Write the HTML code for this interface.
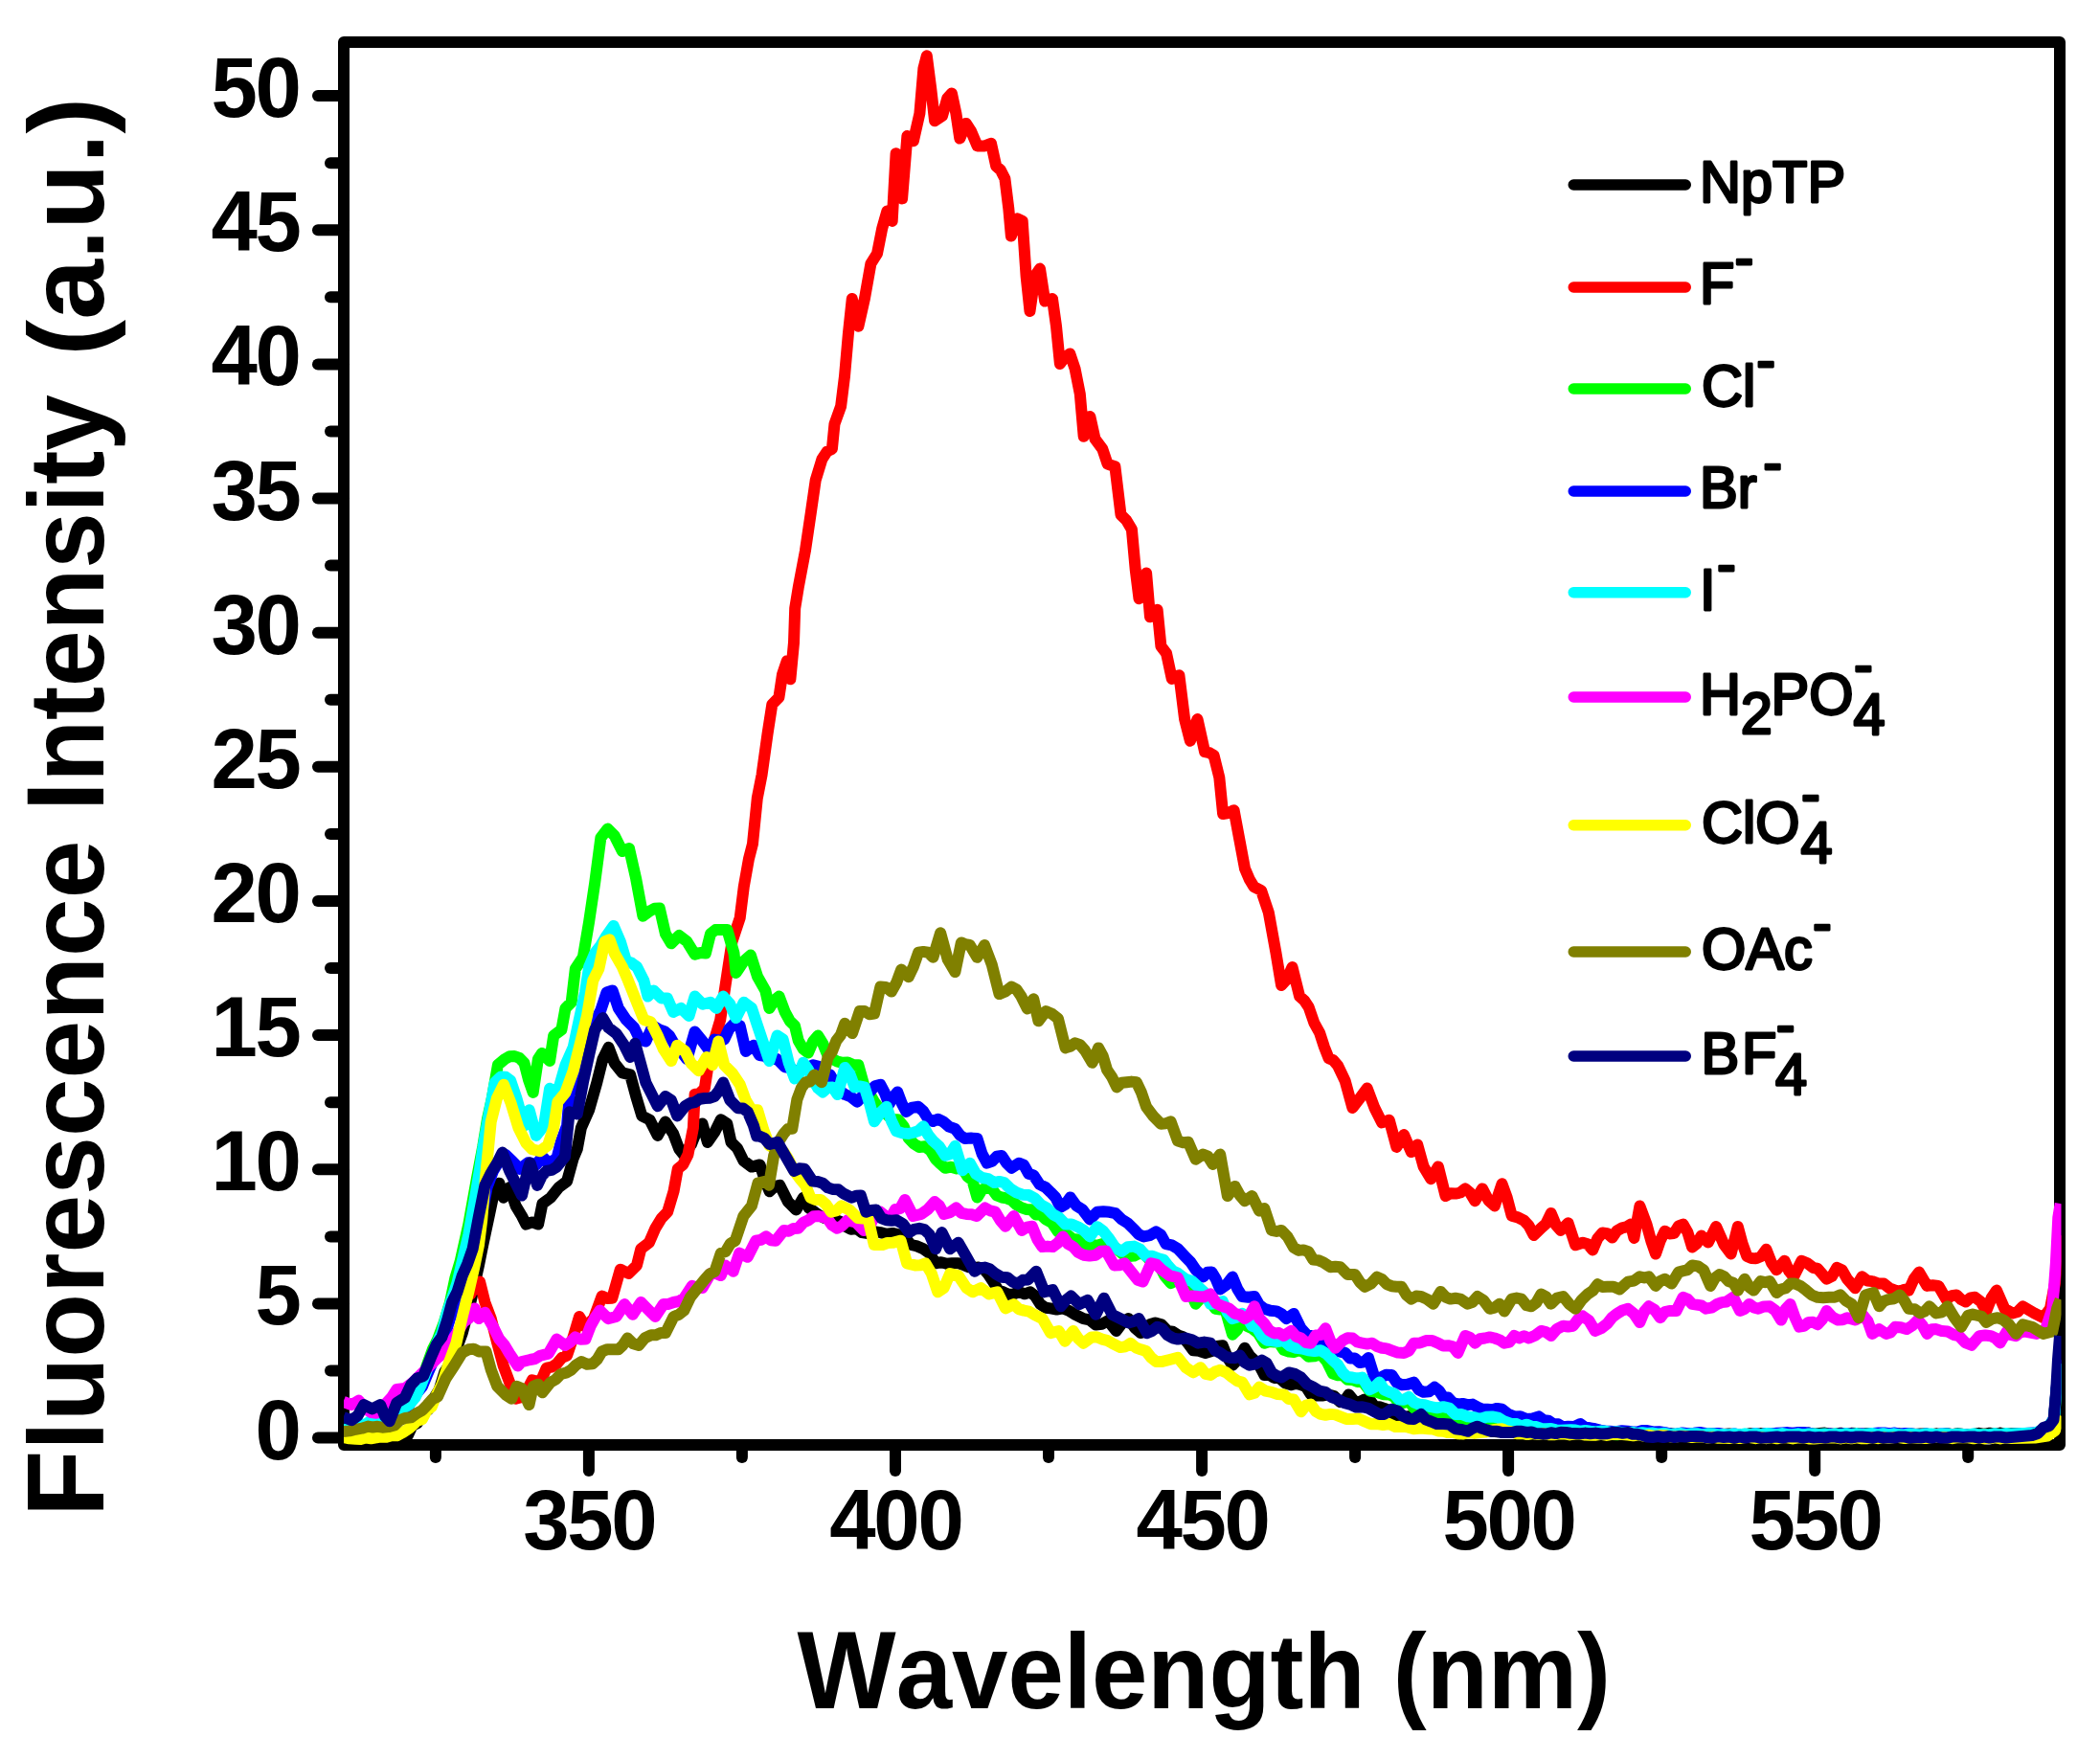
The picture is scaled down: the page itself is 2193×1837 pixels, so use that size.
<!DOCTYPE html>
<html lang="en"><head><meta charset="utf-8"><title>Fluorescence spectra of NpTP with anions</title>
<style>html,body{margin:0;padding:0;background:#fff}body{width:2193px;height:1837px;overflow:hidden}svg{display:block}text{font-family:"Liberation Sans",sans-serif;fill:#000}.b{font-weight:bold}.tk{font-weight:bold;font-size:89.5px;letter-spacing:-2.4px}.ti{font-weight:bold;font-size:110.5px}.lg{font-size:61px;stroke:#000;stroke-width:2.8px;stroke-linejoin:round}</style></head><body>
<svg width="2193" height="1837" viewBox="0 0 2193 1837">
<rect width="2193" height="1837" fill="#fff"/>
<defs><clipPath id="cp"><rect x="359" y="42" width="1793.5" height="1467.5"/></clipPath></defs>
<g stroke="#000" stroke-width="12" stroke-linecap="round" fill="none">
<line x1="332" y1="1501.6" x2="359" y2="1501.6"/>
<line x1="345" y1="1431.5" x2="359" y2="1431.5"/>
<line x1="332" y1="1361.4" x2="359" y2="1361.4"/>
<line x1="345" y1="1291.4" x2="359" y2="1291.4"/>
<line x1="332" y1="1221.3" x2="359" y2="1221.3"/>
<line x1="345" y1="1151.2" x2="359" y2="1151.2"/>
<line x1="332" y1="1081.1" x2="359" y2="1081.1"/>
<line x1="345" y1="1011.1" x2="359" y2="1011.1"/>
<line x1="332" y1="941.0" x2="359" y2="941.0"/>
<line x1="345" y1="870.9" x2="359" y2="870.9"/>
<line x1="332" y1="800.8" x2="359" y2="800.8"/>
<line x1="345" y1="730.8" x2="359" y2="730.8"/>
<line x1="332" y1="660.7" x2="359" y2="660.7"/>
<line x1="345" y1="590.6" x2="359" y2="590.6"/>
<line x1="332" y1="520.5" x2="359" y2="520.5"/>
<line x1="345" y1="450.5" x2="359" y2="450.5"/>
<line x1="332" y1="380.4" x2="359" y2="380.4"/>
<line x1="345" y1="310.3" x2="359" y2="310.3"/>
<line x1="332" y1="240.2" x2="359" y2="240.2"/>
<line x1="345" y1="170.2" x2="359" y2="170.2"/>
<line x1="332" y1="100.1" x2="359" y2="100.1"/>
<line x1="614.9" y1="1509" x2="614.9" y2="1536"/>
<line x1="935.0" y1="1509" x2="935.0" y2="1536"/>
<line x1="1255.1" y1="1509" x2="1255.1" y2="1536"/>
<line x1="1575.1" y1="1509" x2="1575.1" y2="1536"/>
<line x1="1895.2" y1="1509" x2="1895.2" y2="1536"/>
<line x1="454.9" y1="1509" x2="454.9" y2="1522"/>
<line x1="774.9" y1="1509" x2="774.9" y2="1522"/>
<line x1="1095.0" y1="1509" x2="1095.0" y2="1522"/>
<line x1="1415.1" y1="1509" x2="1415.1" y2="1522"/>
<line x1="1735.2" y1="1509" x2="1735.2" y2="1522"/>
<line x1="2055.2" y1="1509" x2="2055.2" y2="1522"/>
</g>
<rect x="359" y="44" width="1792" height="1465" fill="none" stroke="#000" stroke-width="12" stroke-linejoin="round"/>
<g clip-path="url(#cp)" fill="none" stroke-width="12" stroke-linejoin="round" stroke-linecap="butt">
<path d="M358.6 1501.4 L364.3 1502.3 L370.0 1502.6 L375.7 1502.0 L381.4 1502.3 L387.1 1503.7 L392.9 1503.5 L398.4 1502.6 L404.0 1503.2 L409.6 1501.8 L415.1 1502.3 L420.7 1501.4 L425.7 1499.4 L430.7 1488.7 L435.7 1486.4 L441.4 1475.3 L447.1 1472.4 L452.8 1460.7 L458.6 1451.4 L464.3 1432.9 L470.0 1424.3 L476.4 1409.7 L482.8 1392.1 L491.4 1360.0 L500.0 1321.4 L504.3 1300.0 L510.7 1270.0 L516.1 1244.3 L521.4 1235.7 L525.7 1250.7 L532.1 1240.0 L538.6 1259.3 L545.0 1270.0 L549.3 1278.6 L555.7 1276.4 L562.1 1278.6 L566.4 1257.1 L575.0 1250.7 L583.6 1240.0 L592.1 1233.6 L598.6 1210.0 L602.8 1200.0 L606.9 1177.7 L615.1 1159.3 L623.3 1130.6 L629.4 1106.1 L635.5 1093.8 L641.7 1110.2 L649.9 1120.4 L658.1 1122.4 L664.2 1145.0 L670.3 1165.4 L678.5 1169.5 L686.7 1185.9 L694.9 1171.6 L703.1 1183.8 L709.2 1200.0 L714.0 1206.0 L722.0 1195.0 L728.0 1180.0 L733.5 1173.6 L738.9 1192.9 L746.4 1182.1 L752.8 1169.3 L759.3 1173.6 L763.5 1192.9 L770.0 1199.3 L776.4 1212.1 L785.0 1218.6 L793.5 1216.4 L798.6 1231.7 L803.6 1244.3 L808.9 1239.2 L814.3 1237.9 L822.9 1255.0 L831.4 1263.6 L838.9 1250.7 L844.8 1261.6 L850.7 1265.7 L855.7 1269.4 L860.7 1271.8 L865.7 1272.1 L871.4 1273.6 L877.1 1275.7 L882.8 1280.7 L888.6 1283.8 L894.3 1283.0 L900.0 1287.1 L906.4 1288.2 L912.8 1286.2 L919.3 1287.1 L925.7 1288.7 L932.1 1287.9 L938.6 1289.3 L945.0 1292.4 L951.4 1300.0 L957.8 1301.4 L964.3 1304.3 L970.7 1308.8 L977.1 1319.3 L982.8 1318.2 L988.6 1319.8 L994.3 1319.3 L1000.7 1319.2 L1007.1 1321.4 L1012.1 1323.4 L1017.1 1324.0 L1022.1 1323.6 L1027.1 1325.2 L1032.1 1330.9 L1037.1 1338.6 L1042.5 1347.3 L1047.8 1349.3 L1053.2 1351.9 L1058.6 1351.4 L1064.3 1349.2 L1070.0 1351.3 L1075.7 1349.3 L1081.0 1353.5 L1086.4 1362.1 L1091.8 1365.7 L1097.1 1366.4 L1103.5 1367.6 L1110.0 1366.4 L1116.4 1368.8 L1122.8 1372.8 L1131.4 1377.1 L1137.8 1378.3 L1144.3 1383.6 L1150.7 1382.8 L1157.1 1379.3 L1165.7 1390.0 L1172.1 1381.4 L1178.5 1377.1 L1185.0 1386.6 L1191.4 1392.1 L1196.4 1386.5 L1201.4 1383.0 L1206.4 1381.4 L1212.8 1383.3 L1219.3 1390.0 L1224.6 1390.6 L1230.0 1394.3 L1235.3 1396.2 L1240.7 1403.1 L1246.1 1410.3 L1252.5 1410.9 L1258.9 1412.9 L1264.8 1411.3 L1270.8 1406.0 L1276.8 1405.2 L1281.9 1417.7 L1287.0 1425.7 L1293.4 1419.1 L1299.8 1407.8 L1304.9 1415.8 L1310.0 1420.6 L1315.1 1425.9 L1320.3 1435.9 L1325.4 1435.9 L1330.5 1438.9 L1335.6 1438.5 L1342.0 1444.4 L1348.4 1446.2 L1353.5 1444.9 L1358.6 1446.2 L1363.8 1448.3 L1368.9 1456.4 L1374.9 1457.5 L1380.8 1457.5 L1386.8 1456.4 L1393.2 1458.0 L1399.6 1464.1 L1404.1 1462.8 L1408.5 1456.4 L1414.9 1464.1 L1420.1 1464.0 L1425.2 1461.5 L1430.3 1461.8 L1435.4 1469.0 L1440.5 1469.2 L1445.6 1470.9 L1450.8 1473.0 L1455.9 1476.9 L1462.3 1479.7 L1468.7 1479.4 L1475.1 1478.7 L1481.5 1479.4 L1486.6 1479.3 L1491.7 1483.4 L1496.8 1482.9 L1501.9 1486.8 L1507.1 1487.1 L1512.8 1489.2 L1518.6 1489.0 L1524.3 1488.1 L1530.1 1489.7 L1535.7 1491.2 L1541.4 1491.2 L1547.0 1492.2 L1552.6 1494.2 L1558.2 1494.8 L1563.9 1495.4 L1569.6 1494.5 L1575.3 1495.6 L1580.9 1495.7 L1586.6 1495.8 L1592.3 1495.9 L1597.9 1495.0 L1603.6 1496.1 L1609.3 1495.2 L1614.9 1496.3 L1620.6 1496.4 L1626.3 1495.5 L1632.0 1496.6 L1637.6 1496.7 L1643.3 1496.8 L1649.0 1496.9 L1654.6 1496.0 L1660.3 1497.1 L1666.0 1496.2 L1671.6 1497.3 L1677.3 1496.4 L1683.0 1497.5 L1688.7 1496.6 L1694.3 1497.7 L1700.0 1497.3 L1705.6 1496.9 L1711.1 1497.9 L1716.7 1496.9 L1722.2 1498.0 L1727.8 1498.0 L1733.3 1497.1 L1738.9 1498.1 L1744.4 1497.1 L1750.0 1498.2 L1755.6 1497.2 L1761.1 1498.2 L1766.7 1497.3 L1772.2 1498.3 L1777.8 1497.4 L1783.3 1497.4 L1788.9 1497.4 L1794.4 1497.5 L1800.0 1498.0 L1805.6 1497.4 L1811.1 1498.4 L1816.7 1498.3 L1822.2 1498.3 L1827.8 1497.2 L1833.3 1498.2 L1838.9 1497.1 L1844.4 1498.1 L1850.0 1498.0 L1855.6 1496.9 L1861.1 1497.9 L1866.7 1496.8 L1872.2 1497.8 L1877.8 1496.7 L1883.3 1497.7 L1888.9 1496.6 L1894.4 1497.6 L1900.0 1497.0 L1905.6 1496.6 L1911.1 1497.6 L1916.7 1497.7 L1922.2 1496.7 L1927.8 1497.8 L1933.3 1496.8 L1938.9 1496.9 L1944.4 1497.9 L1950.0 1497.0 L1955.6 1498.1 L1961.1 1498.1 L1966.7 1498.2 L1972.2 1497.2 L1977.8 1498.3 L1983.3 1497.3 L1988.9 1498.4 L1994.4 1497.4 L2000.0 1498.0 L2005.6 1497.4 L2011.1 1497.4 L2016.7 1498.3 L2022.2 1497.3 L2027.8 1498.2 L2033.3 1497.2 L2038.9 1498.1 L2044.4 1497.1 L2050.0 1498.0 L2055.6 1497.9 L2061.1 1497.9 L2066.7 1496.8 L2072.2 1497.8 L2077.8 1496.7 L2083.3 1497.7 L2088.9 1496.6 L2094.4 1497.6 L2100.0 1497.0 L2130.0 1497.0 L2140.0 1491.0 L2145.0 1482.0 L2147.5 1452.0 L2151.0 1425.0" stroke="#000000"/>
<path d="M358.6 1499.3 L364.5 1499.2 L370.4 1497.7 L376.2 1498.2 L382.1 1497.1 L387.5 1495.5 L392.9 1495.5 L398.2 1493.4 L403.6 1492.8 L408.9 1485.8 L414.3 1484.3 L422.9 1465.0 L429.3 1458.2 L435.7 1445.7 L442.1 1439.3 L450.7 1420.0 L456.1 1405.8 L461.4 1398.6 L466.8 1372.8 L472.7 1369.0 L478.6 1362.1 L485.0 1355.3 L491.4 1351.4 L496.2 1343.1 L501.1 1338.6 L506.4 1360.0 L512.8 1377.1 L519.3 1402.8 L525.7 1426.4 L532.1 1443.6 L538.6 1460.7 L547.1 1458.5 L555.7 1441.4 L564.3 1443.6 L570.7 1428.6 L576.1 1427.7 L581.4 1424.3 L586.8 1417.8 L592.1 1415.7 L598.6 1396.4 L605.0 1375.0 L611.4 1385.7 L620.0 1377.1 L628.6 1353.6 L633.9 1355.9 L639.3 1355.7 L647.8 1325.7 L656.4 1330.0 L665.0 1321.4 L669.3 1304.3 L677.8 1297.8 L684.3 1282.8 L690.7 1272.4 L697.1 1265.7 L703.5 1244.3 L707.8 1220.7 L713.2 1216.3 L718.5 1205.7 L723.9 1177.9 L725.6 1142.9 L730.7 1141.8 L735.8 1136.8 L739.9 1110.2 L746.1 1085.6 L752.2 1065.1 L758.3 1024.2 L764.5 983.3 L772.7 958.7 L776.8 926.0 L781.9 897.3 L786.0 881.2 L790.8 833.5 L795.5 809.6 L801.5 766.6 L806.3 735.6 L813.4 728.4 L817.0 704.5 L821.8 690.2 L825.4 709.3 L829.0 671.1 L830.2 635.2 L833.7 613.7 L840.9 575.5 L846.9 534.9 L851.7 501.5 L858.5 479.3 L863.7 471.5 L868.9 468.9 L871.5 442.7 L878.1 424.4 L882.0 393.0 L885.9 348.6 L889.8 312.0 L896.4 340.7 L902.9 312.0 L909.4 275.4 L916.0 264.9 L921.2 238.7 L926.4 220.4 L931.7 230.9 L935.6 160.3 L942.1 207.4 L947.4 142.0 L953.9 147.2 L960.4 118.5 L964.4 71.4 L967.8 58.3 L972.2 92.3 L976.1 126.3 L984.0 121.1 L989.2 102.8 L993.9 97.5 L998.4 118.5 L1002.3 144.6 L1008.8 128.9 L1014.0 136.8 L1020.6 152.4 L1028.4 152.4 L1035.0 149.8 L1040.2 173.4 L1044.8 177.5 L1049.4 186.4 L1053.3 217.8 L1055.9 246.6 L1062.4 228.3 L1067.7 230.9 L1071.6 288.4 L1075.5 325.0 L1080.7 288.4 L1086.0 280.6 L1091.2 314.6 L1099.0 312.0 L1103.0 340.7 L1106.9 380.0 L1112.1 373.1 L1117.3 369.5 L1122.6 385.2 L1127.8 411.3 L1131.7 455.8 L1138.3 434.9 L1143.5 458.4 L1151.3 468.9 L1156.6 484.6 L1164.4 487.2 L1170.5 537.6 L1176.2 543.2 L1181.9 552.9 L1185.7 594.8 L1189.5 625.2 L1197.1 598.6 L1201.0 644.3 L1208.6 636.7 L1212.4 674.8 L1218.1 682.4 L1223.8 709.0 L1231.4 705.2 L1237.1 751.0 L1242.9 773.8 L1250.5 751.0 L1258.1 785.2 L1262.9 786.2 L1267.6 789.0 L1273.3 811.9 L1277.1 850.0 L1282.9 849.1 L1288.6 846.2 L1294.3 876.7 L1300.0 907.1 L1304.8 918.4 L1309.5 926.2 L1317.1 930.0 L1324.8 952.9 L1332.4 994.8 L1338.1 1029.0 L1343.8 1022.7 L1349.5 1010.0 L1357.1 1040.5 L1361.9 1044.7 L1366.7 1051.9 L1372.4 1068.4 L1378.1 1078.6 L1382.9 1093.4 L1387.6 1105.2 L1392.4 1107.3 L1397.1 1112.9 L1404.7 1128.9 L1412.4 1157.0 L1420.1 1146.8 L1427.7 1136.5 L1435.4 1157.0 L1443.1 1172.4 L1450.8 1169.8 L1458.4 1197.9 L1466.1 1185.1 L1473.8 1203.1 L1480.2 1195.4 L1486.6 1218.4 L1494.3 1231.2 L1501.9 1218.4 L1509.6 1249.1 L1514.7 1246.2 L1519.9 1246.6 L1525.0 1245.5 L1530.1 1241.4 L1535.2 1245.6 L1540.3 1254.2 L1548.0 1241.4 L1554.4 1253.5 L1560.8 1259.4 L1568.5 1236.3 L1573.6 1250.4 L1578.7 1269.6 L1585.1 1271.4 L1591.5 1274.7 L1596.6 1280.2 L1601.7 1290.1 L1609.4 1282.4 L1614.5 1277.9 L1619.7 1267.0 L1624.8 1279.2 L1629.9 1284.9 L1637.6 1277.3 L1645.2 1300.3 L1652.9 1297.7 L1658.0 1299.2 L1663.2 1305.4 L1668.3 1293.4 L1673.4 1287.5 L1678.5 1288.1 L1683.6 1292.6 L1688.7 1285.2 L1693.9 1282.4 L1698.4 1281.3 L1702.9 1278.6 L1706.4 1292.9 L1712.4 1259.5 L1719.5 1278.6 L1724.3 1296.0 L1729.0 1309.5 L1733.8 1295.6 L1738.6 1285.7 L1743.3 1288.4 L1748.1 1288.1 L1752.9 1280.3 L1757.6 1278.6 L1762.4 1286.9 L1767.1 1302.4 L1771.9 1298.7 L1776.7 1290.5 L1783.8 1297.6 L1792.1 1281.0 L1800.5 1300.0 L1807.6 1309.5 L1814.8 1281.0 L1819.5 1298.6 L1824.3 1311.9 L1829.0 1313.9 L1833.8 1314.3 L1839.2 1312.0 L1844.5 1304.8 L1849.9 1318.7 L1855.2 1326.2 L1863.6 1316.7 L1868.3 1327.5 L1873.1 1333.3 L1881.4 1316.7 L1887.4 1319.2 L1893.3 1323.8 L1898.1 1324.9 L1902.9 1330.4 L1907.6 1335.7 L1913.0 1333.0 L1918.3 1323.8 L1923.7 1326.4 L1929.0 1335.7 L1937.4 1345.2 L1944.5 1333.3 L1949.9 1337.5 L1955.2 1338.1 L1961.2 1340.4 L1967.1 1340.5 L1973.1 1345.2 L1979.0 1347.6 L1983.8 1348.7 L1988.6 1346.7 L1993.3 1347.6 L1998.7 1335.6 L2004.0 1328.6 L2012.4 1342.9 L2018.3 1342.3 L2024.3 1342.9 L2032.6 1357.1 L2038.0 1353.2 L2043.3 1352.4 L2048.1 1357.2 L2052.9 1359.5 L2057.6 1355.4 L2062.4 1354.8 L2068.3 1359.2 L2074.3 1369.0 L2079.6 1355.7 L2085.0 1347.6 L2093.3 1366.7 L2101.7 1371.4 L2107.0 1370.0 L2112.4 1364.3 L2124.3 1371.4 L2133.8 1376.2 L2141.0 1366.7 L2146.0 1340.0 L2151.0 1290.0" stroke="#ff0000"/>
<path d="M358.6 1497.1 L364.5 1495.0 L370.4 1494.4 L376.2 1491.8 L382.1 1490.7 L387.5 1489.7 L392.9 1490.1 L398.2 1488.6 L403.6 1488.5 L409.3 1480.8 L415.0 1474.1 L420.7 1471.4 L425.7 1465.5 L430.7 1453.8 L435.7 1450.0 L441.1 1439.4 L446.4 1424.3 L451.8 1409.2 L457.1 1398.6 L463.6 1381.5 L470.0 1360.0 L475.3 1335.0 L480.7 1317.1 L489.3 1278.6 L497.8 1231.4 L504.3 1197.1 L509.0 1168.6 L513.8 1147.0 L519.9 1112.2 L527.1 1106.1 L532.2 1103.2 L537.3 1103.0 L542.4 1104.9 L547.5 1110.2 L552.1 1127.9 L556.7 1140.9 L561.9 1106.1 L566.0 1099.9 L574.1 1108.1 L578.2 1081.5 L586.4 1075.4 L590.5 1052.9 L596.7 1046.7 L600.8 1011.9 L608.9 999.6 L615.1 962.8 L621.2 921.9 L627.4 874.8 L634.5 865.6 L641.7 872.7 L649.9 889.1 L657.0 886.0 L664.2 917.8 L671.4 956.7 L678.5 951.5 L683.6 948.8 L688.8 948.5 L694.9 975.1 L701.0 985.3 L709.2 977.1 L717.4 983.3 L725.6 996.6 L731.2 995.1 L736.9 995.5 L742.0 975.1 L747.1 971.1 L752.2 971.0 L759.4 971.0 L766.5 995.5 L768.6 1016.0 L776.8 1003.7 L783.9 997.6 L791.1 1020.1 L799.3 1034.4 L803.4 1052.9 L808.5 1044.9 L813.6 1040.6 L819.7 1056.9 L824.9 1066.4 L830.0 1071.3 L833.7 1086.7 L838.8 1095.5 L844.0 1099.5 L849.1 1087.6 L854.2 1081.6 L859.3 1089.9 L864.4 1102.1 L869.5 1105.9 L874.7 1108.7 L879.8 1109.8 L885.3 1109.6 L890.9 1112.0 L896.4 1112.3 L902.8 1135.4 L907.9 1141.6 L913.0 1150.7 L919.4 1158.9 L925.8 1163.5 L931.8 1169.1 L937.8 1169.2 L943.7 1176.3 L948.8 1188.7 L954.0 1194.2 L959.9 1198.0 L965.9 1197.2 L971.9 1201.9 L977.0 1210.4 L982.1 1215.5 L987.2 1219.8 L993.2 1218.7 L999.2 1220.4 L1005.1 1219.8 L1010.2 1228.5 L1015.4 1232.6 L1020.5 1250.5 L1025.6 1242.4 L1030.7 1240.2 L1035.8 1241.5 L1040.9 1248.5 L1046.1 1250.5 L1051.2 1251.4 L1056.3 1253.4 L1061.4 1258.1 L1066.5 1261.1 L1071.6 1262.9 L1076.8 1263.3 L1081.9 1268.4 L1087.0 1268.6 L1092.1 1273.5 L1098.5 1276.8 L1104.9 1286.3 L1110.0 1289.8 L1115.1 1289.8 L1120.2 1294.0 L1125.4 1294.4 L1130.5 1300.5 L1135.6 1301.6 L1140.7 1299.8 L1145.8 1300.8 L1150.9 1299.1 L1156.1 1302.7 L1161.2 1301.0 L1166.3 1304.2 L1172.7 1309.8 L1179.1 1311.9 L1184.2 1311.6 L1189.3 1309.0 L1194.4 1309.3 L1199.5 1314.6 L1204.7 1314.9 L1209.8 1319.5 L1216.2 1332.4 L1222.6 1340.0 L1230.7 1336.1 L1235.8 1337.7 L1240.9 1343.8 L1248.6 1361.7 L1253.7 1355.8 L1258.9 1354.0 L1264.0 1359.0 L1269.1 1366.8 L1274.2 1367.5 L1279.3 1366.8 L1287.0 1393.7 L1292.1 1388.7 L1297.2 1377.1 L1302.4 1385.1 L1307.5 1387.3 L1313.9 1392.3 L1320.3 1402.7 L1325.4 1401.0 L1330.5 1401.4 L1335.6 1402.1 L1340.7 1409.9 L1345.9 1411.6 L1351.0 1412.0 L1356.1 1410.3 L1361.2 1411.9 L1366.3 1416.7 L1372.7 1416.3 L1379.1 1414.2 L1385.5 1421.7 L1391.9 1434.6 L1397.0 1436.2 L1402.1 1435.9 L1407.3 1440.8 L1412.4 1441.0 L1417.5 1443.0 L1422.6 1442.3 L1430.3 1452.5 L1438.0 1453.8 L1444.4 1456.2 L1450.8 1456.4 L1455.9 1458.8 L1461.0 1465.3 L1466.1 1464.9 L1471.2 1462.8 L1476.4 1470.3 L1481.5 1472.3 L1487.9 1473.3 L1494.3 1471.7 L1500.7 1476.4 L1507.1 1477.4 L1513.5 1477.8 L1519.9 1479.4 L1526.3 1483.1 L1532.7 1485.0 L1539.0 1486.2 L1545.4 1485.8 L1551.8 1485.8 L1558.2 1489.7 L1564.6 1490.2 L1571.0 1489.7 L1577.4 1490.4 L1583.8 1492.2 L1588.9 1493.2 L1594.1 1493.7 L1599.2 1493.2 L1604.3 1494.8 L1609.4 1494.8 L1614.5 1494.5 L1619.7 1495.8 L1624.8 1495.0 L1629.9 1495.3 L1635.0 1496.0 L1640.1 1496.8 L1645.2 1496.1 L1650.4 1496.3 L1655.5 1497.6 L1660.6 1497.3 L1666.2 1497.9 L1671.9 1497.0 L1677.5 1498.0 L1683.1 1498.1 L1688.7 1498.2 L1694.4 1497.3 L1700.0 1497.8 L1705.6 1498.4 L1711.1 1497.5 L1716.7 1498.5 L1722.2 1497.6 L1727.8 1497.7 L1733.3 1498.7 L1738.9 1497.8 L1744.4 1498.9 L1750.0 1497.9 L1755.6 1499.0 L1761.1 1498.0 L1766.7 1499.1 L1772.2 1498.2 L1777.8 1499.2 L1783.3 1498.3 L1788.9 1499.4 L1794.4 1498.4 L1800.0 1499.0 L1805.6 1498.5 L1811.1 1498.4 L1816.7 1499.4 L1822.2 1498.4 L1827.8 1499.4 L1833.3 1498.3 L1838.9 1499.3 L1844.4 1498.3 L1850.0 1499.2 L1855.6 1498.2 L1861.1 1499.2 L1866.7 1498.2 L1872.2 1498.1 L1877.8 1498.1 L1883.3 1499.1 L1888.9 1498.1 L1894.4 1499.0 L1900.0 1498.5 L1905.6 1499.0 L1911.1 1498.1 L1916.7 1498.1 L1922.2 1498.1 L1927.8 1499.1 L1933.3 1498.2 L1938.9 1498.2 L1944.4 1499.2 L1950.0 1498.2 L1955.6 1499.3 L1961.1 1498.3 L1966.7 1498.3 L1972.2 1499.4 L1977.8 1498.4 L1983.3 1498.4 L1988.9 1499.4 L1994.4 1499.5 L2000.0 1499.0 L2005.6 1499.5 L2011.1 1498.4 L2016.7 1499.4 L2022.2 1498.4 L2027.8 1498.4 L2033.3 1499.3 L2038.9 1499.3 L2044.4 1499.3 L2050.0 1499.2 L2055.6 1498.2 L2061.1 1499.2 L2066.7 1499.2 L2072.2 1498.1 L2077.8 1499.1 L2083.3 1499.1 L2088.9 1499.1 L2094.4 1498.0 L2100.0 1498.5 L2130.0 1497.0 L2140.0 1491.0 L2145.0 1482.0 L2147.5 1452.0 L2151.0 1424.0" stroke="#00ff00"/>
<path d="M358.6 1499.3 L364.5 1498.2 L370.4 1495.5 L376.2 1493.9 L382.1 1492.8 L387.5 1491.8 L392.9 1492.3 L398.2 1490.7 L403.6 1490.7 L409.3 1487.4 L415.0 1482.7 L420.7 1475.7 L425.7 1471.2 L430.7 1459.4 L435.7 1454.3 L441.1 1447.8 L446.4 1435.0 L451.8 1422.6 L457.1 1413.6 L463.6 1396.8 L470.0 1377.1 L476.4 1363.0 L482.8 1342.8 L488.2 1326.3 L493.6 1312.8 L502.1 1274.3 L508.6 1240.0 L515.0 1222.9 L521.4 1212.1 L527.8 1205.7 L534.3 1212.1 L542.8 1220.7 L551.4 1214.3 L560.0 1216.4 L566.4 1207.9 L572.8 1214.3 L581.4 1210.0 L585.7 1192.9 L592.1 1175.7 L594.6 1142.9 L602.8 1122.4 L611.0 1095.8 L619.2 1071.3 L627.4 1054.9 L633.5 1036.5 L639.6 1034.4 L645.8 1052.9 L654.0 1065.1 L662.2 1073.3 L668.3 1085.6 L674.4 1087.6 L681.6 1071.3 L688.8 1075.4 L693.9 1077.1 L699.0 1081.5 L707.2 1095.8 L712.3 1099.3 L717.4 1106.1 L725.6 1077.4 L733.8 1087.6 L739.9 1095.8 L746.1 1085.6 L751.2 1086.7 L756.3 1085.6 L761.4 1074.5 L766.5 1069.2 L772.7 1071.3 L778.8 1097.9 L787.0 1091.7 L793.1 1102.0 L798.3 1102.7 L803.4 1106.1 L811.6 1106.1 L819.7 1114.3 L824.9 1115.2 L830.0 1118.3 L831.2 1120.0 L837.1 1116.1 L843.1 1115.8 L849.1 1112.3 L855.0 1113.9 L861.0 1120.2 L867.0 1122.6 L872.1 1131.6 L877.2 1139.4 L882.3 1143.0 L888.7 1145.5 L895.1 1150.7 L901.5 1143.8 L907.9 1140.5 L913.7 1134.4 L919.4 1132.8 L923.9 1141.4 L928.4 1153.3 L932.9 1145.6 L937.3 1140.5 L941.8 1152.5 L946.3 1160.9 L952.7 1156.6 L959.1 1155.8 L964.2 1160.5 L969.3 1168.6 L974.4 1171.0 L979.5 1168.8 L984.7 1171.2 L991.1 1176.6 L997.4 1178.8 L1002.6 1185.6 L1007.7 1189.1 L1014.1 1188.6 L1020.5 1189.1 L1025.6 1205.2 L1030.7 1214.7 L1035.8 1212.9 L1040.9 1207.8 L1046.1 1207.0 L1051.2 1214.8 L1056.3 1219.8 L1064.0 1214.7 L1069.1 1216.6 L1074.2 1225.7 L1079.3 1227.4 L1085.7 1237.0 L1092.1 1240.2 L1097.2 1245.2 L1102.3 1250.5 L1107.4 1260.7 L1112.6 1257.8 L1117.7 1250.5 L1124.1 1259.2 L1130.5 1263.3 L1138.1 1273.5 L1145.8 1265.8 L1152.2 1265.3 L1158.6 1265.8 L1165.0 1267.2 L1171.4 1273.5 L1177.8 1277.5 L1184.2 1283.7 L1189.3 1289.3 L1194.4 1291.4 L1200.8 1290.1 L1207.2 1286.3 L1212.3 1289.5 L1217.5 1299.1 L1223.7 1300.4 L1230.0 1304.2 L1238.4 1313.1 L1243.5 1318.3 L1248.6 1325.9 L1256.3 1333.6 L1260.8 1328.7 L1265.3 1328.4 L1269.7 1335.7 L1274.2 1346.4 L1280.6 1341.9 L1287.0 1333.6 L1292.1 1345.8 L1297.2 1354.0 L1303.6 1354.8 L1310.0 1354.0 L1315.1 1362.9 L1320.3 1366.8 L1326.7 1368.7 L1333.1 1369.4 L1338.2 1372.0 L1343.3 1377.1 L1351.0 1371.9 L1358.6 1387.3 L1363.8 1393.0 L1368.9 1395.0 L1374.9 1400.4 L1380.8 1404.1 L1386.8 1405.2 L1392.8 1405.9 L1398.7 1411.4 L1404.7 1412.9 L1409.8 1418.5 L1414.9 1418.6 L1420.1 1423.1 L1424.5 1422.4 L1429.0 1418.0 L1435.4 1438.5 L1441.4 1438.9 L1447.4 1435.7 L1453.3 1435.9 L1458.4 1443.6 L1463.6 1446.2 L1470.0 1445.7 L1476.4 1443.6 L1481.5 1451.3 L1486.6 1453.8 L1492.3 1453.3 L1498.1 1448.7 L1502.6 1452.2 L1507.1 1458.9 L1512.2 1459.5 L1517.3 1465.1 L1522.4 1466.6 L1527.5 1465.9 L1532.7 1467.1 L1537.8 1466.6 L1542.9 1469.5 L1548.0 1471.7 L1553.1 1471.7 L1558.2 1472.3 L1563.4 1470.9 L1568.5 1471.7 L1574.9 1476.7 L1581.3 1479.4 L1587.7 1479.3 L1594.1 1482.0 L1600.5 1481.5 L1606.9 1479.4 L1612.0 1483.1 L1617.1 1483.6 L1622.2 1487.1 L1627.3 1487.3 L1632.4 1490.3 L1637.6 1489.7 L1644.0 1489.9 L1650.4 1487.1 L1655.5 1490.8 L1660.6 1491.3 L1665.7 1492.2 L1670.8 1493.6 L1675.9 1494.4 L1681.1 1494.8 L1687.4 1495.3 L1693.7 1494.3 L1700.0 1494.8 L1705.0 1495.5 L1710.0 1495.5 L1715.0 1494.0 L1720.0 1494.0 L1726.2 1495.4 L1732.5 1495.2 L1738.8 1496.1 L1745.0 1497.5 L1751.0 1497.7 L1757.0 1496.4 L1763.0 1497.1 L1769.0 1496.8 L1775.0 1496.0 L1781.2 1497.0 L1787.5 1497.5 L1793.8 1497.0 L1800.0 1498.0 L1805.6 1498.4 L1811.1 1497.4 L1816.7 1498.3 L1822.2 1498.3 L1827.8 1498.2 L1833.3 1497.2 L1838.9 1498.1 L1844.4 1497.1 L1850.0 1497.5 L1855.6 1496.7 L1861.2 1496.4 L1866.8 1496.1 L1872.4 1496.8 L1878.0 1496.0 L1883.5 1496.0 L1889.0 1496.5 L1894.5 1498.0 L1900.0 1498.0 L1905.6 1498.5 L1911.1 1497.5 L1916.7 1498.5 L1922.2 1497.5 L1927.8 1497.5 L1933.3 1497.5 L1938.9 1498.5 L1944.4 1497.5 L1950.0 1498.0 L1956.0 1497.0 L1962.0 1496.5 L1968.0 1496.5 L1973.3 1497.2 L1978.7 1496.5 L1984.0 1497.8 L1989.3 1497.0 L1994.7 1497.2 L2000.0 1498.0 L2005.6 1498.5 L2011.1 1497.5 L2016.7 1498.5 L2022.2 1498.5 L2027.8 1497.5 L2033.3 1497.5 L2038.9 1498.5 L2044.4 1498.5 L2050.0 1498.0 L2055.2 1498.5 L2060.4 1499.5 L2065.6 1500.5 L2070.8 1501.5 L2076.0 1503.0 L2082.0 1501.2 L2088.0 1501.0 L2094.0 1498.8 L2100.0 1498.0 L2130.0 1496.0 L2140.0 1490.0 L2145.0 1481.0 L2147.5 1450.0 L2151.0 1420.0" stroke="#0000ff"/>
<path d="M358.6 1492.8 L365.0 1492.3 L371.4 1490.7 L376.4 1487.1 L381.4 1488.3 L386.4 1484.3 L392.9 1484.9 L399.3 1484.3 L404.3 1484.6 L409.3 1480.6 L414.3 1480.0 L420.7 1470.8 L427.1 1467.1 L433.6 1459.4 L440.0 1445.7 L445.4 1431.6 L450.7 1420.0 L456.1 1403.2 L461.4 1392.1 L466.8 1370.9 L472.1 1355.7 L477.5 1339.8 L482.8 1317.1 L489.3 1289.3 L495.7 1252.8 L501.1 1220.7 L504.3 1199.3 L510.7 1163.4 L516.8 1130.6 L523.0 1124.5 L528.1 1124.8 L533.2 1128.6 L539.4 1147.0 L547.5 1175.7 L552.7 1159.3 L559.8 1185.9 L568.0 1175.7 L574.1 1136.8 L582.3 1140.9 L590.5 1112.2 L598.7 1093.8 L604.8 1065.1 L611.0 1036.5 L615.1 1009.9 L621.2 995.5 L627.4 987.4 L633.5 977.1 L640.7 966.9 L647.8 983.3 L654.0 1003.7 L659.6 1005.7 L665.2 1009.9 L672.4 1024.2 L676.5 1040.6 L682.6 1034.4 L690.8 1042.6 L696.9 1042.6 L703.1 1056.9 L711.3 1052.9 L719.5 1061.0 L725.6 1040.6 L733.8 1048.8 L742.0 1046.7 L748.1 1052.9 L755.3 1040.6 L762.4 1048.8 L768.6 1063.1 L776.8 1046.7 L785.0 1052.9 L791.1 1071.3 L797.2 1089.7 L803.4 1108.1 L811.6 1081.5 L817.7 1085.6 L823.8 1110.2 L830.0 1126.5 L834.4 1121.3 L838.8 1109.8 L844.0 1117.0 L849.1 1127.7 L854.2 1136.4 L859.3 1140.5 L864.4 1135.7 L869.5 1135.4 L874.7 1143.0 L882.3 1114.9 L887.4 1121.6 L892.6 1135.4 L897.7 1134.5 L902.8 1135.4 L907.9 1151.8 L913.0 1171.2 L919.4 1162.1 L925.8 1155.8 L930.9 1170.6 L936.1 1181.4 L942.4 1183.4 L948.8 1184.0 L954.0 1182.7 L959.1 1181.1 L964.2 1176.3 L969.3 1185.3 L974.4 1191.6 L980.8 1197.2 L987.2 1207.0 L992.3 1205.1 L997.4 1196.8 L1005.1 1222.3 L1012.8 1214.7 L1019.2 1225.9 L1025.6 1230.0 L1032.0 1231.2 L1038.4 1235.1 L1043.5 1233.9 L1048.6 1235.1 L1055.0 1241.4 L1061.4 1245.4 L1067.8 1247.7 L1074.2 1247.9 L1080.6 1251.5 L1087.0 1258.1 L1093.4 1261.8 L1099.8 1268.4 L1106.2 1271.8 L1112.6 1278.6 L1119.0 1278.5 L1125.4 1281.2 L1131.8 1285.0 L1138.1 1291.4 L1145.8 1281.2 L1152.2 1285.9 L1158.6 1294.0 L1165.0 1303.5 L1171.4 1306.8 L1177.8 1302.2 L1184.2 1301.6 L1190.6 1304.7 L1197.0 1311.9 L1203.4 1311.8 L1209.8 1314.4 L1214.9 1315.5 L1220.0 1322.1 L1225.0 1327.5 L1230.0 1329.8 L1238.4 1336.1 L1244.8 1338.1 L1251.2 1343.8 L1257.6 1349.7 L1264.0 1361.7 L1270.4 1361.1 L1276.8 1359.2 L1281.9 1370.8 L1287.0 1377.1 L1292.1 1375.5 L1297.2 1371.9 L1302.4 1375.8 L1307.5 1384.7 L1312.6 1386.7 L1317.7 1395.0 L1322.8 1399.7 L1327.9 1400.1 L1334.3 1401.0 L1340.7 1400.1 L1347.1 1405.6 L1353.5 1407.8 L1359.9 1408.5 L1366.3 1410.3 L1372.7 1411.1 L1379.1 1410.3 L1385.5 1414.0 L1391.9 1420.6 L1397.0 1425.2 L1402.1 1433.4 L1407.3 1438.1 L1412.4 1438.5 L1417.5 1439.6 L1422.6 1438.5 L1430.3 1451.3 L1435.4 1448.6 L1440.5 1443.6 L1445.6 1451.5 L1450.8 1453.8 L1455.9 1455.5 L1461.0 1461.5 L1466.1 1461.8 L1471.2 1458.9 L1476.4 1464.4 L1481.5 1466.6 L1487.9 1467.3 L1494.3 1469.2 L1500.7 1470.3 L1507.1 1469.2 L1513.5 1470.6 L1519.9 1476.9 L1526.3 1477.0 L1532.7 1479.4 L1539.0 1480.1 L1545.4 1482.0 L1551.8 1479.8 L1558.2 1479.4 L1564.6 1480.6 L1571.0 1484.5 L1577.4 1486.7 L1583.8 1487.1 L1588.9 1489.5 L1594.1 1487.7 L1599.2 1489.7 L1604.3 1490.0 L1609.4 1491.9 L1614.5 1492.2 L1619.7 1492.0 L1624.8 1493.4 L1629.9 1493.7 L1635.0 1493.5 L1640.1 1493.2 L1645.2 1493.5 L1650.4 1494.8 L1655.5 1494.0 L1660.6 1494.8 L1666.2 1495.5 L1671.9 1494.6 L1677.5 1494.8 L1683.1 1496.0 L1688.7 1495.2 L1694.4 1496.4 L1700.0 1496.0 L1705.0 1495.8 L1710.0 1497.0 L1715.0 1496.3 L1720.0 1497.0 L1726.0 1496.6 L1732.0 1497.7 L1738.0 1496.8 L1744.0 1497.9 L1750.0 1497.5 L1755.6 1497.1 L1761.1 1498.1 L1766.7 1497.2 L1772.2 1497.2 L1777.8 1498.3 L1783.3 1497.3 L1788.9 1497.4 L1794.4 1498.4 L1800.0 1498.0 L1805.6 1498.4 L1811.1 1497.4 L1816.7 1498.3 L1822.2 1497.3 L1827.8 1498.2 L1833.3 1497.2 L1838.9 1498.1 L1844.4 1497.1 L1850.0 1497.5 L1855.6 1498.1 L1861.1 1497.1 L1866.7 1498.2 L1872.2 1498.2 L1877.8 1497.3 L1883.3 1498.3 L1888.9 1497.4 L1894.4 1497.4 L1900.0 1498.0 L1905.6 1497.4 L1911.1 1498.4 L1916.7 1497.3 L1922.2 1498.3 L1927.8 1497.2 L1933.3 1498.2 L1938.9 1497.1 L1944.4 1498.1 L1950.0 1497.5 L1955.6 1497.1 L1961.1 1498.1 L1966.7 1497.2 L1972.2 1498.2 L1977.8 1497.3 L1983.3 1498.3 L1988.9 1498.4 L1994.4 1497.4 L2000.0 1498.0 L2005.6 1498.5 L2011.1 1497.5 L2016.7 1497.5 L2022.2 1498.5 L2027.8 1497.5 L2033.3 1497.5 L2038.9 1498.5 L2044.4 1497.5 L2050.0 1498.0 L2055.6 1498.4 L2061.1 1497.4 L2066.7 1498.3 L2072.2 1498.3 L2077.8 1498.2 L2083.3 1497.2 L2088.9 1498.1 L2094.4 1497.1 L2100.0 1497.5 L2125.0 1496.5 L2138.0 1491.0 L2145.0 1482.0 L2147.5 1453.0 L2151.0 1424.0" stroke="#00ffff"/>
<path d="M358.6 1463.9 L367.1 1467.1 L374.6 1462.8 L382.1 1471.4 L387.5 1475.1 L392.9 1475.7 L398.2 1468.9 L403.6 1465.0 L408.9 1459.4 L414.3 1451.0 L422.9 1450.0 L431.4 1443.6 L440.0 1435.0 L448.6 1426.4 L457.1 1417.8 L463.6 1412.3 L470.0 1402.8 L478.6 1390.0 L483.9 1380.7 L489.3 1377.1 L495.7 1366.4 L500.0 1377.1 L506.4 1370.7 L515.0 1385.7 L521.4 1398.6 L526.8 1404.7 L532.1 1413.6 L540.7 1426.4 L545.0 1422.1 L553.6 1420.0 L558.9 1419.0 L564.3 1415.7 L572.8 1413.6 L581.4 1398.6 L590.0 1405.0 L595.3 1401.9 L600.7 1396.4 L606.1 1398.7 L611.4 1398.6 L616.8 1384.6 L622.1 1375.0 L626.4 1368.6 L635.0 1377.1 L643.6 1375.0 L652.1 1362.1 L660.7 1372.8 L669.3 1360.0 L677.8 1368.6 L684.3 1375.0 L692.8 1362.1 L698.2 1361.9 L703.5 1360.0 L708.9 1359.0 L714.3 1355.7 L722.8 1342.8 L728.2 1344.8 L733.5 1345.0 L742.1 1330.0 L747.5 1330.0 L752.8 1332.1 L757.1 1321.4 L765.7 1327.8 L772.1 1308.6 L780.7 1312.8 L789.3 1295.7 L794.6 1294.8 L800.0 1291.4 L805.0 1295.2 L810.0 1295.7 L818.6 1285.0 L823.6 1285.7 L828.6 1282.9 L833.6 1282.8 L838.9 1276.7 L844.3 1274.3 L849.6 1270.2 L855.0 1270.0 L863.6 1272.1 L868.9 1279.5 L874.3 1282.8 L879.6 1279.9 L885.0 1274.3 L893.6 1276.4 L902.1 1285.0 L907.8 1280.6 L913.6 1270.1 L919.3 1265.7 L924.6 1269.9 L930.0 1272.1 L935.0 1263.0 L940.0 1262.1 L945.0 1252.9 L953.6 1270.0 L962.1 1267.9 L969.1 1262.8 L976.1 1255.0 L980.9 1259.1 L985.7 1267.9 L992.1 1266.2 L998.6 1261.4 L1003.9 1266.8 L1009.3 1267.9 L1014.6 1268.3 L1020.0 1270.0 L1028.6 1261.4 L1033.9 1264.4 L1039.3 1265.7 L1044.6 1274.5 L1050.0 1280.7 L1058.6 1270.0 L1067.1 1285.0 L1072.5 1281.7 L1077.8 1280.7 L1083.2 1294.1 L1088.5 1302.1 L1093.9 1301.6 L1099.3 1302.1 L1104.6 1298.2 L1110.0 1291.4 L1115.3 1299.0 L1120.7 1302.1 L1126.0 1308.0 L1131.4 1310.7 L1137.8 1311.6 L1144.3 1310.7 L1149.6 1306.8 L1155.0 1306.4 L1163.5 1321.4 L1168.9 1321.3 L1174.3 1319.3 L1182.8 1330.0 L1188.2 1336.8 L1193.5 1338.6 L1202.1 1319.3 L1207.5 1320.5 L1212.8 1325.7 L1221.4 1332.1 L1230.0 1334.3 L1238.4 1354.0 L1244.8 1353.4 L1251.2 1354.0 L1257.6 1354.4 L1264.0 1351.5 L1270.4 1361.2 L1276.8 1364.3 L1283.2 1366.4 L1289.6 1371.9 L1294.7 1373.0 L1299.8 1377.1 L1304.9 1373.7 L1310.0 1364.3 L1315.1 1376.8 L1320.3 1382.2 L1325.4 1389.4 L1330.5 1392.4 L1335.6 1392.1 L1340.7 1395.0 L1348.4 1389.9 L1353.5 1395.8 L1358.6 1397.5 L1363.8 1402.1 L1368.9 1402.7 L1374.0 1394.5 L1379.1 1394.1 L1384.2 1387.3 L1389.4 1400.6 L1394.5 1407.8 L1402.1 1400.1 L1407.3 1397.2 L1412.4 1397.5 L1417.5 1401.4 L1422.6 1402.7 L1427.7 1403.6 L1432.9 1402.7 L1438.0 1406.1 L1443.1 1407.8 L1448.2 1408.4 L1453.3 1410.3 L1459.7 1412.6 L1466.1 1412.9 L1471.2 1410.7 L1476.4 1402.7 L1482.8 1402.5 L1489.2 1400.1 L1495.5 1399.9 L1501.9 1402.7 L1507.1 1405.6 L1512.2 1405.2 L1517.3 1406.3 L1522.4 1412.9 L1530.1 1395.0 L1535.2 1396.8 L1540.3 1402.7 L1545.4 1398.3 L1550.6 1397.5 L1555.7 1396.4 L1560.8 1397.5 L1565.9 1399.3 L1571.0 1402.7 L1576.2 1401.6 L1581.3 1395.0 L1586.4 1397.4 L1591.5 1395.2 L1596.6 1397.5 L1603.0 1394.8 L1609.4 1389.9 L1614.5 1391.1 L1619.7 1395.0 L1626.0 1387.8 L1632.4 1384.7 L1637.6 1385.5 L1642.7 1384.7 L1647.8 1378.0 L1652.9 1374.5 L1659.3 1379.2 L1665.7 1389.9 L1672.1 1387.3 L1678.5 1382.2 L1683.6 1375.7 L1688.7 1371.9 L1694.4 1368.4 L1700.0 1366.8 L1706.2 1371.9 L1712.4 1381.0 L1717.1 1369.8 L1721.9 1364.3 L1727.9 1367.9 L1733.8 1376.2 L1738.6 1370.1 L1743.3 1369.0 L1750.5 1369.0 L1757.6 1354.8 L1762.4 1356.8 L1767.1 1361.9 L1771.9 1362.7 L1776.7 1363.4 L1781.4 1366.7 L1787.4 1365.7 L1793.3 1361.9 L1798.1 1360.1 L1802.9 1359.5 L1810.0 1354.8 L1817.1 1369.0 L1821.9 1367.0 L1826.7 1361.9 L1831.4 1365.4 L1836.2 1366.7 L1842.1 1364.4 L1848.1 1364.3 L1854.0 1368.6 L1860.0 1378.6 L1864.8 1367.1 L1869.5 1361.9 L1874.3 1375.5 L1879.0 1385.7 L1883.8 1384.9 L1888.6 1381.0 L1893.3 1380.8 L1898.1 1383.3 L1902.9 1378.0 L1907.6 1369.0 L1913.6 1375.5 L1919.5 1378.6 L1924.3 1378.3 L1929.0 1376.2 L1937.4 1378.6 L1945.7 1373.8 L1950.5 1379.8 L1955.2 1392.9 L1962.4 1388.1 L1969.5 1392.9 L1974.3 1391.4 L1979.0 1385.7 L1985.0 1386.2 L1991.0 1388.1 L1996.9 1384.5 L2002.9 1378.6 L2007.6 1384.1 L2012.4 1392.9 L2017.1 1388.2 L2021.9 1388.1 L2027.9 1390.1 L2033.8 1390.5 L2039.8 1393.8 L2045.7 1395.2 L2052.3 1402.2 L2058.8 1404.8 L2067.1 1395.2 L2073.1 1394.5 L2079.0 1395.2 L2083.8 1397.5 L2088.6 1402.4 L2095.7 1390.5 L2100.5 1394.2 L2105.2 1395.2 L2110.0 1391.2 L2114.8 1390.5 L2126.7 1392.9 L2136.2 1388.1 L2143.3 1366.7 L2146.9 1319.0 L2149.3 1271.4 L2151.7 1257.1" stroke="#ff00ff"/>
<path d="M358.6 1501.0 L365.0 1502.3 L371.4 1502.7 L376.8 1502.9 L382.1 1501.5 L387.5 1502.2 L392.9 1501.4 L398.2 1500.4 L403.6 1500.8 L408.9 1499.3 L414.3 1499.3 L420.7 1496.0 L427.1 1491.8 L435.7 1483.8 L440.7 1482.3 L445.7 1473.0 L450.7 1469.3 L456.1 1456.1 L461.4 1445.7 L470.0 1420.0 L476.4 1402.8 L482.8 1375.0 L489.3 1349.3 L495.7 1321.4 L500.0 1300.0 L503.2 1274.3 L506.0 1240.0 L512.7 1171.6 L518.9 1147.0 L526.0 1132.7 L533.2 1151.1 L541.4 1177.7 L549.6 1194.1 L555.7 1200.2 L563.9 1202.3 L572.1 1196.1 L578.2 1177.7 L582.3 1151.1 L590.5 1140.9 L598.7 1118.3 L606.9 1085.6 L613.0 1061.0 L619.2 1024.2 L625.3 1011.9 L631.5 983.3 L636.6 981.2 L641.7 995.5 L649.9 1009.9 L656.0 1024.2 L664.2 1044.7 L672.4 1065.1 L679.5 1067.2 L686.7 1081.5 L692.9 1095.8 L701.0 1108.1 L707.2 1091.7 L715.4 1097.9 L721.5 1110.2 L729.7 1118.3 L737.9 1104.0 L744.0 1112.2 L750.2 1087.6 L756.3 1112.2 L764.5 1120.4 L772.7 1132.7 L778.8 1149.0 L785.0 1159.3 L791.1 1159.3 L797.2 1179.7 L803.4 1196.1 L808.3 1199.2 L813.3 1199.3 L818.1 1202.6 L822.9 1210.0 L829.3 1222.6 L835.7 1231.4 L841.1 1237.9 L846.4 1250.7 L851.8 1253.0 L857.1 1252.9 L862.5 1257.7 L867.9 1265.7 L873.2 1264.5 L878.6 1259.3 L887.1 1263.6 L895.7 1272.1 L901.1 1272.6 L906.4 1272.1 L912.8 1300.0 L921.4 1300.0 L926.8 1298.0 L932.1 1297.8 L940.7 1295.7 L947.1 1319.3 L955.7 1321.4 L961.1 1321.3 L966.4 1319.3 L972.8 1330.0 L979.3 1349.3 L985.7 1345.0 L992.1 1330.0 L1000.7 1332.1 L1009.3 1345.0 L1015.7 1349.3 L1024.3 1345.0 L1032.8 1351.4 L1041.4 1349.3 L1050.0 1366.4 L1058.6 1362.1 L1063.9 1367.1 L1069.3 1368.6 L1074.6 1369.6 L1080.0 1372.8 L1088.5 1377.1 L1097.1 1392.1 L1105.7 1390.0 L1112.1 1400.7 L1120.7 1390.0 L1126.0 1397.9 L1131.4 1402.8 L1140.0 1396.4 L1145.3 1396.3 L1150.7 1398.6 L1156.0 1399.8 L1161.4 1402.8 L1170.0 1407.1 L1175.3 1406.3 L1180.7 1402.8 L1186.0 1407.3 L1191.4 1409.3 L1196.8 1411.0 L1202.1 1417.8 L1207.5 1422.1 L1212.8 1422.1 L1221.4 1420.0 L1230.0 1417.8 L1238.4 1428.2 L1246.1 1433.4 L1253.7 1428.2 L1258.9 1434.9 L1264.0 1435.9 L1269.1 1432.5 L1274.2 1430.8 L1280.6 1433.4 L1287.0 1438.5 L1292.1 1442.2 L1297.2 1443.6 L1304.9 1456.4 L1310.0 1454.8 L1315.1 1448.7 L1321.5 1452.6 L1327.9 1453.8 L1334.3 1456.1 L1340.7 1456.4 L1345.9 1461.1 L1351.0 1461.5 L1358.6 1474.3 L1363.8 1467.7 L1368.9 1466.6 L1374.0 1473.8 L1379.1 1476.9 L1384.2 1477.7 L1389.4 1476.9 L1394.5 1477.4 L1399.6 1479.4 L1406.0 1481.9 L1412.4 1482.0 L1418.8 1481.6 L1425.2 1484.5 L1431.6 1487.2 L1438.0 1487.1 L1444.4 1488.0 L1450.8 1487.1 L1457.2 1490.1 L1463.6 1489.7 L1470.0 1490.4 L1476.4 1492.2 L1481.5 1491.7 L1486.6 1491.7 L1491.7 1492.2 L1496.8 1492.6 L1501.9 1494.4 L1507.1 1494.8 L1512.2 1496.1 L1517.3 1496.0 L1522.4 1497.3 L1528.2 1497.5 L1533.9 1496.2 L1539.7 1496.9 L1545.4 1496.0 L1551.2 1495.6 L1557.0 1493.6 L1562.7 1492.7 L1568.5 1492.2 L1573.6 1494.4 L1578.7 1495.1 L1583.8 1497.3 L1589.4 1496.9 L1594.9 1498.0 L1600.4 1497.0 L1606.0 1498.1 L1611.5 1497.1 L1617.0 1498.2 L1622.6 1498.3 L1628.1 1497.3 L1633.6 1497.4 L1639.1 1498.4 L1644.7 1497.5 L1650.2 1497.6 L1655.7 1498.6 L1661.3 1498.7 L1666.8 1498.7 L1672.3 1497.8 L1677.9 1498.9 L1683.4 1497.9 L1688.9 1498.0 L1694.5 1498.0 L1700.0 1498.6 L1705.6 1499.3 L1711.1 1498.4 L1716.7 1499.6 L1722.2 1498.8 L1727.8 1499.9 L1733.3 1499.1 L1738.9 1499.2 L1744.4 1500.4 L1750.0 1500.6 L1755.6 1499.7 L1761.1 1499.9 L1766.7 1501.0 L1772.2 1500.2 L1777.8 1500.4 L1783.3 1501.5 L1788.9 1500.7 L1794.4 1501.8 L1800.0 1501.5 L1805.6 1502.0 L1811.1 1501.1 L1816.7 1502.1 L1822.2 1501.1 L1827.8 1501.1 L1833.3 1502.2 L1838.9 1501.2 L1844.4 1502.2 L1850.0 1501.2 L1855.6 1502.3 L1861.1 1501.3 L1866.7 1501.3 L1872.2 1502.4 L1877.8 1501.4 L1883.3 1501.4 L1888.9 1502.4 L1894.4 1502.5 L1900.0 1502.0 L1905.6 1501.5 L1911.1 1501.4 L1916.7 1501.4 L1922.2 1502.4 L1927.8 1501.4 L1933.3 1502.3 L1938.9 1501.3 L1944.4 1502.3 L1950.0 1502.2 L1955.6 1501.2 L1961.1 1502.2 L1966.7 1501.2 L1972.2 1502.1 L1977.8 1501.1 L1983.3 1501.1 L1988.9 1502.1 L1994.4 1501.0 L2000.0 1501.5 L2005.6 1502.0 L2011.1 1502.1 L2016.7 1501.1 L2022.2 1501.1 L2027.8 1501.1 L2033.3 1501.2 L2038.9 1502.2 L2044.4 1501.2 L2050.0 1501.2 L2055.6 1501.3 L2061.1 1502.3 L2066.7 1501.3 L2072.2 1502.4 L2077.8 1502.4 L2083.3 1501.4 L2088.9 1502.4 L2094.4 1501.5 L2100.0 1502.0 L2125.0 1501.5 L2138.0 1499.5 L2146.0 1494.0 L2151.0 1478.0" stroke="#ffff00"/>
<path d="M358.6 1495.0 L365.0 1494.4 L371.4 1492.8 L377.9 1491.7 L384.3 1489.6 L389.3 1490.5 L394.3 1489.8 L399.3 1490.7 L405.7 1490.1 L412.1 1488.5 L417.5 1483.3 L422.9 1481.0 L429.3 1480.3 L435.7 1475.7 L441.1 1472.7 L446.4 1467.1 L451.8 1461.0 L457.1 1458.5 L465.7 1439.3 L474.3 1426.4 L482.8 1412.5 L489.3 1409.3 L494.6 1408.7 L500.0 1411.4 L507.5 1411.4 L512.8 1430.7 L519.3 1447.8 L527.8 1456.4 L534.3 1460.7 L539.6 1447.8 L545.0 1450.0 L552.5 1467.1 L556.8 1447.8 L562.1 1445.7 L566.4 1454.3 L575.0 1443.6 L580.3 1440.6 L585.7 1435.0 L591.1 1433.7 L596.4 1430.7 L601.8 1425.3 L607.1 1422.1 L613.0 1424.7 L618.9 1424.3 L623.7 1419.6 L628.6 1411.4 L634.3 1409.2 L640.0 1409.2 L645.7 1409.3 L650.5 1404.8 L655.3 1397.5 L661.2 1403.3 L667.1 1405.0 L673.5 1397.2 L680.0 1394.3 L685.0 1394.3 L690.0 1392.1 L695.0 1392.1 L703.5 1375.0 L708.9 1372.9 L714.3 1368.6 L720.7 1355.1 L727.1 1347.1 L735.7 1336.4 L741.0 1330.5 L746.4 1327.8 L752.8 1308.6 L757.8 1307.0 L762.8 1298.6 L767.8 1295.7 L776.4 1270.0 L785.0 1259.3 L791.4 1235.7 L800.0 1233.6 L803.0 1237.7 L808.1 1207.0 L813.3 1192.1 L818.4 1184.0 L822.8 1179.1 L827.3 1178.8 L832.4 1148.1 L836.9 1136.1 L841.4 1130.2 L845.9 1129.5 L850.4 1122.6 L858.0 1130.2 L864.4 1104.7 L868.9 1098.2 L873.4 1086.7 L877.9 1081.0 L882.3 1068.8 L890.0 1079.1 L897.7 1056.1 L902.8 1056.0 L907.9 1059.3 L913.0 1058.6 L919.4 1030.5 L925.2 1030.9 L930.9 1035.6 L936.1 1026.3 L941.2 1012.6 L948.8 1020.2 L954.0 1009.3 L959.1 994.7 L964.2 993.9 L969.3 994.7 L974.4 999.8 L982.1 974.2 L989.8 1002.3 L997.4 1015.1 L1003.8 984.4 L1008.3 986.3 L1012.8 987.0 L1020.5 999.8 L1028.1 987.0 L1035.8 1007.4 L1043.5 1038.1 L1049.9 1035.4 L1056.3 1030.5 L1061.4 1033.2 L1066.5 1040.7 L1072.9 1053.5 L1079.3 1043.3 L1084.4 1066.3 L1092.1 1056.1 L1098.5 1058.8 L1104.9 1063.7 L1112.6 1094.4 L1117.7 1092.8 L1122.8 1089.3 L1127.9 1091.1 L1133.0 1097.0 L1140.7 1109.8 L1147.1 1094.4 L1151.6 1102.6 L1156.1 1117.4 L1161.2 1124.8 L1166.3 1135.4 L1171.4 1130.8 L1176.5 1130.2 L1181.6 1129.6 L1186.8 1130.2 L1191.9 1140.9 L1197.0 1155.8 L1204.7 1166.1 L1212.3 1173.7 L1217.5 1173.3 L1222.6 1171.2 L1230.0 1191.6 L1235.5 1193.2 L1240.9 1192.8 L1248.6 1210.7 L1256.3 1205.6 L1261.4 1207.6 L1266.5 1215.9 L1274.2 1205.6 L1281.9 1249.1 L1289.6 1238.9 L1294.7 1248.1 L1299.8 1254.2 L1307.5 1249.1 L1315.1 1264.5 L1320.3 1261.9 L1327.9 1284.9 L1333.1 1286.0 L1338.2 1284.9 L1344.6 1291.6 L1351.0 1302.9 L1356.1 1305.9 L1361.2 1305.4 L1366.3 1307.1 L1371.4 1315.6 L1376.6 1316.1 L1381.7 1318.2 L1389.4 1323.3 L1394.5 1322.8 L1399.6 1323.3 L1407.3 1331.0 L1414.9 1331.0 L1420.1 1339.1 L1425.2 1343.8 L1431.6 1340.6 L1438.0 1333.6 L1443.1 1335.9 L1448.2 1341.2 L1453.3 1343.2 L1458.4 1343.7 L1463.6 1343.8 L1468.7 1352.3 L1473.8 1356.6 L1478.9 1353.6 L1484.0 1354.0 L1490.4 1356.9 L1496.8 1361.7 L1504.5 1348.9 L1509.6 1354.6 L1514.7 1356.6 L1519.9 1355.8 L1525.0 1356.6 L1532.7 1361.7 L1537.8 1359.8 L1542.9 1354.0 L1549.3 1358.1 L1555.7 1366.8 L1560.8 1365.6 L1565.9 1361.7 L1571.0 1369.4 L1578.7 1356.6 L1583.8 1355.5 L1588.9 1356.6 L1594.1 1363.2 L1599.2 1364.3 L1604.3 1360.5 L1609.4 1351.5 L1614.5 1354.3 L1619.7 1361.7 L1626.0 1355.5 L1632.4 1354.0 L1638.8 1361.9 L1645.2 1366.8 L1651.6 1357.8 L1658.0 1351.5 L1663.2 1348.1 L1668.3 1341.2 L1673.4 1344.0 L1678.5 1343.8 L1684.9 1343.7 L1691.3 1346.4 L1700.0 1338.7 L1706.2 1337.6 L1712.4 1333.3 L1717.1 1334.4 L1721.9 1333.3 L1729.0 1342.9 L1733.8 1337.9 L1738.6 1335.7 L1745.7 1340.5 L1752.9 1328.6 L1757.6 1327.3 L1762.4 1326.1 L1767.1 1321.4 L1773.1 1322.4 L1779.0 1326.2 L1786.2 1342.9 L1791.0 1334.6 L1795.7 1331.0 L1800.5 1333.2 L1805.2 1338.1 L1810.0 1339.7 L1814.8 1347.6 L1821.9 1335.7 L1826.7 1344.1 L1831.4 1347.6 L1838.6 1338.1 L1843.3 1339.2 L1848.1 1338.1 L1855.2 1350.0 L1860.0 1346.6 L1864.8 1345.2 L1869.5 1340.6 L1874.3 1340.5 L1880.2 1343.0 L1886.2 1347.6 L1892.1 1352.5 L1898.1 1354.8 L1904.0 1355.3 L1910.0 1354.8 L1916.0 1354.8 L1921.9 1352.4 L1927.9 1358.6 L1933.8 1361.9 L1941.0 1376.2 L1948.1 1352.4 L1956.4 1350.0 L1962.4 1364.3 L1967.1 1358.8 L1971.9 1357.1 L1977.9 1356.2 L1983.8 1352.4 L1988.6 1358.3 L1993.3 1366.7 L1999.3 1367.2 L2005.2 1371.4 L2010.0 1369.5 L2014.8 1364.3 L2021.9 1371.4 L2027.9 1370.3 L2033.8 1364.3 L2041.0 1376.2 L2048.1 1385.7 L2055.2 1373.8 L2060.0 1372.6 L2064.8 1373.8 L2069.5 1374.9 L2074.3 1381.0 L2080.2 1377.4 L2086.2 1376.2 L2092.1 1378.5 L2098.1 1383.3 L2105.2 1392.9 L2112.4 1383.3 L2121.9 1385.7 L2133.8 1392.9 L2143.3 1390.5 L2148.1 1366.7 L2151.7 1357.1" stroke="#808000"/>
<path d="M358.6 1480.0 L367.1 1483.2 L373.6 1478.4 L380.0 1467.1 L388.6 1471.4 L397.1 1467.1 L402.0 1479.0 L406.8 1484.3 L414.3 1465.0 L422.9 1459.6 L429.3 1446.0 L435.7 1439.3 L442.1 1437.1 L450.7 1415.7 L456.1 1403.5 L461.4 1396.4 L466.8 1379.7 L472.1 1360.0 L477.5 1349.2 L482.8 1332.1 L488.2 1319.8 L493.6 1304.3 L500.0 1270.0 L506.4 1237.9 L512.8 1225.0 L519.3 1214.3 L524.6 1203.6 L532.1 1222.9 L538.6 1235.7 L545.0 1248.6 L551.4 1220.7 L553.6 1214.3 L561.1 1237.9 L565.9 1227.9 L570.7 1222.9 L576.1 1221.9 L581.4 1218.6 L590.0 1207.9 L594.6 1161.3 L602.8 1163.4 L608.9 1130.6 L615.1 1102.0 L621.2 1075.4 L629.4 1063.1 L635.5 1073.3 L643.7 1079.5 L651.9 1091.7 L658.1 1104.0 L663.2 1089.7 L668.3 1108.1 L674.4 1130.6 L680.6 1142.9 L686.7 1155.2 L694.9 1145.0 L701.0 1149.0 L707.2 1165.4 L715.4 1155.2 L720.5 1152.2 L725.6 1151.1 L730.7 1147.8 L735.8 1147.0 L740.9 1146.7 L746.1 1145.0 L750.7 1139.2 L755.3 1130.6 L762.4 1149.0 L770.6 1157.2 L775.7 1157.4 L780.9 1161.3 L787.0 1175.7 L790.2 1186.5 L792.9 1186.4 L798.2 1188.7 L803.6 1195.0 L812.1 1192.9 L820.7 1207.9 L829.3 1222.9 L834.6 1220.3 L840.0 1220.7 L848.6 1233.6 L853.9 1234.0 L859.3 1235.7 L864.6 1240.4 L870.0 1242.1 L875.4 1242.2 L880.7 1246.4 L889.3 1250.7 L894.1 1248.7 L898.9 1248.6 L904.3 1265.7 L909.6 1263.9 L915.0 1263.6 L920.3 1272.1 L925.7 1274.3 L931.1 1274.8 L936.4 1274.3 L942.8 1278.1 L949.3 1287.1 L954.6 1283.8 L960.0 1282.8 L965.3 1284.1 L970.7 1289.3 L977.1 1304.3 L983.6 1287.1 L992.1 1304.3 L1000.7 1297.8 L1009.3 1312.8 L1017.8 1327.8 L1023.2 1324.3 L1028.6 1323.6 L1033.9 1325.5 L1039.3 1330.0 L1045.7 1333.7 L1052.1 1334.3 L1057.5 1338.6 L1062.8 1340.7 L1068.2 1336.8 L1073.6 1336.4 L1082.1 1327.8 L1090.7 1349.3 L1099.3 1347.1 L1107.8 1364.3 L1113.2 1357.7 L1118.5 1353.6 L1127.1 1362.1 L1135.7 1357.8 L1144.3 1372.8 L1152.8 1355.7 L1161.4 1372.8 L1170.0 1377.1 L1178.5 1381.4 L1183.9 1380.0 L1189.3 1377.1 L1197.8 1392.1 L1203.2 1389.9 L1208.5 1385.7 L1213.9 1387.8 L1219.3 1394.3 L1224.6 1397.3 L1230.0 1398.6 L1238.4 1397.5 L1244.8 1399.3 L1251.2 1402.7 L1257.6 1401.6 L1264.0 1402.7 L1269.1 1410.3 L1274.2 1412.9 L1279.3 1416.5 L1284.4 1418.0 L1289.6 1418.2 L1294.7 1415.4 L1299.8 1422.8 L1304.9 1425.7 L1311.3 1424.3 L1317.7 1420.6 L1322.8 1423.7 L1327.9 1433.4 L1333.1 1436.8 L1338.2 1438.5 L1345.9 1433.4 L1352.3 1434.8 L1358.6 1438.5 L1365.0 1445.5 L1371.4 1448.7 L1377.8 1452.6 L1384.2 1453.8 L1390.6 1459.1 L1397.0 1461.5 L1403.4 1464.9 L1409.8 1466.6 L1416.2 1469.5 L1422.6 1469.2 L1429.0 1470.8 L1435.4 1474.3 L1440.5 1477.0 L1445.6 1476.9 L1453.3 1471.7 L1459.7 1473.8 L1466.1 1479.4 L1471.2 1481.7 L1476.4 1482.0 L1484.0 1476.9 L1489.2 1482.7 L1494.3 1484.5 L1500.7 1487.1 L1507.1 1487.1 L1513.5 1487.6 L1519.9 1492.2 L1526.3 1493.0 L1532.7 1494.8 L1537.8 1491.7 L1542.9 1489.7 L1548.0 1491.9 L1553.1 1493.6 L1558.2 1494.8 L1563.4 1494.7 L1568.5 1496.1 L1573.6 1496.0 L1578.7 1496.1 L1583.8 1494.7 L1588.9 1494.8 L1594.1 1495.9 L1599.2 1495.5 L1604.3 1497.2 L1609.4 1497.3 L1614.5 1497.6 L1619.7 1496.3 L1624.8 1497.1 L1629.9 1495.8 L1635.0 1496.0 L1640.1 1496.8 L1645.2 1497.1 L1650.4 1497.3 L1655.5 1496.6 L1660.6 1497.3 L1666.2 1496.6 L1671.9 1497.5 L1677.5 1497.3 L1683.1 1496.1 L1688.7 1495.9 L1694.4 1496.7 L1700.0 1496.0 L1705.0 1497.7 L1710.0 1497.8 L1715.0 1498.9 L1720.0 1500.5 L1725.7 1501.0 L1731.4 1500.0 L1737.1 1501.0 L1742.9 1500.0 L1748.6 1501.0 L1754.3 1500.0 L1760.0 1500.5 L1765.7 1500.1 L1771.4 1500.1 L1777.1 1500.2 L1782.9 1501.3 L1788.6 1501.4 L1794.3 1500.4 L1800.0 1501.0 L1805.6 1500.5 L1811.1 1501.5 L1816.7 1500.5 L1822.2 1501.5 L1827.8 1500.5 L1833.3 1500.5 L1838.9 1501.5 L1844.4 1501.5 L1850.0 1501.0 L1855.6 1500.5 L1861.1 1501.5 L1866.7 1500.5 L1872.2 1500.5 L1877.8 1500.5 L1883.3 1501.5 L1888.9 1500.5 L1894.4 1501.5 L1900.0 1501.0 L1905.6 1501.5 L1911.1 1500.5 L1916.7 1500.5 L1922.2 1501.5 L1927.8 1500.5 L1933.3 1501.5 L1938.9 1500.5 L1944.4 1500.5 L1950.0 1501.0 L1955.6 1501.5 L1961.1 1500.5 L1966.7 1501.5 L1972.2 1501.5 L1977.8 1501.5 L1983.3 1500.5 L1988.9 1500.5 L1994.4 1501.5 L2000.0 1501.0 L2005.6 1501.5 L2011.1 1500.5 L2016.7 1501.5 L2022.2 1500.5 L2027.8 1501.5 L2033.3 1501.5 L2038.9 1500.5 L2044.4 1500.5 L2050.0 1501.0 L2055.6 1500.5 L2061.1 1500.5 L2066.7 1501.5 L2072.2 1500.5 L2077.8 1501.5 L2083.3 1500.5 L2088.9 1500.5 L2094.4 1501.5 L2100.0 1501.0 L2122.0 1499.0 L2128.0 1497.0 L2134.0 1491.0 L2140.0 1489.0 L2144.5 1483.0 L2147.0 1455.0 L2149.0 1420.0 L2151.0 1395.0" stroke="#000080"/>
</g>
<text class="tk" transform="translate(312.5 1523.6) scale(.972 1)" text-anchor="end">0</text>
<text class="tk" transform="translate(312.5 1383.4) scale(.972 1)" text-anchor="end">5</text>
<text class="tk" transform="translate(312.5 1243.3) scale(.972 1)" text-anchor="end">10</text>
<text class="tk" transform="translate(312.5 1103.1) scale(.972 1)" text-anchor="end">15</text>
<text class="tk" transform="translate(312.5 963.0) scale(.972 1)" text-anchor="end">20</text>
<text class="tk" transform="translate(312.5 822.8) scale(.972 1)" text-anchor="end">25</text>
<text class="tk" transform="translate(312.5 682.7) scale(.972 1)" text-anchor="end">30</text>
<text class="tk" transform="translate(312.5 542.5) scale(.972 1)" text-anchor="end">35</text>
<text class="tk" transform="translate(312.5 402.4) scale(.972 1)" text-anchor="end">40</text>
<text class="tk" transform="translate(312.5 262.2) scale(.972 1)" text-anchor="end">45</text>
<text class="tk" transform="translate(312.5 122.1) scale(.972 1)" text-anchor="end">50</text>
<text class="tk" transform="translate(615.3 1618) scale(.972 1)" text-anchor="middle">350</text>
<text class="tk" transform="translate(935.4 1618) scale(.972 1)" text-anchor="middle">400</text>
<text class="tk" transform="translate(1255.5 1618) scale(.972 1)" text-anchor="middle">450</text>
<text class="tk" transform="translate(1575.5 1618) scale(.972 1)" text-anchor="middle">500</text>
<text class="tk" transform="translate(1895.6 1618) scale(.972 1)" text-anchor="middle">550</text>
<text class="ti" x="1257.3" y="1784" text-anchor="middle" textLength="849.5" lengthAdjust="spacingAndGlyphs"><tspan font-size="115">W</tspan>avelength (nm)</text>
<text class="ti" transform="translate(108 1584.1) rotate(-90) scale(0.9880 1)"><tspan font-size="115">F</tspan>luorescence</text>
<text class="ti" transform="translate(108 847.0) rotate(-90) scale(0.9548 1)"><tspan font-size="115">I</tspan>ntensity</text>
<text class="ti" transform="translate(108 371.4) rotate(-90) scale(1.0210 1)">(a.u.)</text>
<line x1="1643.2" y1="193.0" x2="1760.3" y2="193.0" stroke="#000000" stroke-width="11.4" stroke-linecap="round"/>
<line x1="1643.2" y1="300.0" x2="1760.3" y2="300.0" stroke="#ff0000" stroke-width="11.4" stroke-linecap="round"/>
<line x1="1643.2" y1="406.0" x2="1760.3" y2="406.0" stroke="#00ff00" stroke-width="11.4" stroke-linecap="round"/>
<line x1="1643.2" y1="513.0" x2="1760.3" y2="513.0" stroke="#0000ff" stroke-width="11.4" stroke-linecap="round"/>
<line x1="1643.2" y1="618.7" x2="1760.3" y2="618.7" stroke="#00ffff" stroke-width="11.4" stroke-linecap="round"/>
<line x1="1643.2" y1="728.0" x2="1760.3" y2="728.0" stroke="#ff00ff" stroke-width="11.4" stroke-linecap="round"/>
<line x1="1643.2" y1="861.8" x2="1760.3" y2="861.8" stroke="#ffff00" stroke-width="11.4" stroke-linecap="round"/>
<line x1="1643.2" y1="994.0" x2="1760.3" y2="994.0" stroke="#808000" stroke-width="11.4" stroke-linecap="round"/>
<line x1="1643.2" y1="1103.0" x2="1760.3" y2="1103.0" stroke="#000080" stroke-width="11.4" stroke-linecap="round"/>
<text class="lg" transform="translate(1775.0 211.2) scale(.976 1)">NpTP</text>
<text class="lg" transform="translate(1775.0 317.0) scale(.976 1)">F</text>
<text class="lg" transform="translate(1811.5 289.6) scale(.976 1)">-</text>
<text class="lg" transform="translate(1777.0 423.9) scale(.976 1)">Cl</text>
<text class="lg" transform="translate(1834.3 396.9) scale(.976 1)">-</text>
<text class="lg" transform="translate(1775.0 529.7) scale(.976 1)">Br</text>
<text class="lg" transform="translate(1841.3 503.7) scale(.976 1)">-</text>
<text class="lg" transform="translate(1775.0 636.6) scale(.976 1)">I</text>
<text class="lg" transform="translate(1793.0 609.6) scale(.976 1)">-</text>
<text class="lg" transform="translate(1775.0 745.7) scale(.976 1)">H</text>
<text class="lg" transform="translate(1817.7 766.2) scale(.976 1)">2</text>
<text class="lg" transform="translate(1849.5 745.7) scale(.976 1)">PO</text>
<text class="lg" transform="translate(1935.5 767.2) scale(.976 1)">4</text>
<text class="lg" transform="translate(1936.0 715.2) scale(.976 1)">-</text>
<text class="lg" transform="translate(1777.0 879.9) scale(.976 1)">ClO</text>
<text class="lg" transform="translate(1880.5 901.4) scale(.976 1)">4</text>
<text class="lg" transform="translate(1881.0 850.4) scale(.976 1)">-</text>
<text class="lg" transform="translate(1777.0 1011.8) scale(.976 1)">OAc</text>
<text class="lg" transform="translate(1893.0 984.8) scale(.976 1)">-</text>
<text class="lg" transform="translate(1776.5 1121.0) scale(.976 1)">B</text>
<text class="lg" transform="translate(1819.1 1121.0) scale(.976 1)">F</text>
<text class="lg" transform="translate(1854.0 1142.5) scale(.976 1)">4</text>
<text class="lg" transform="translate(1854.7 1090.5) scale(.976 1)">-</text>
</svg></body></html>
